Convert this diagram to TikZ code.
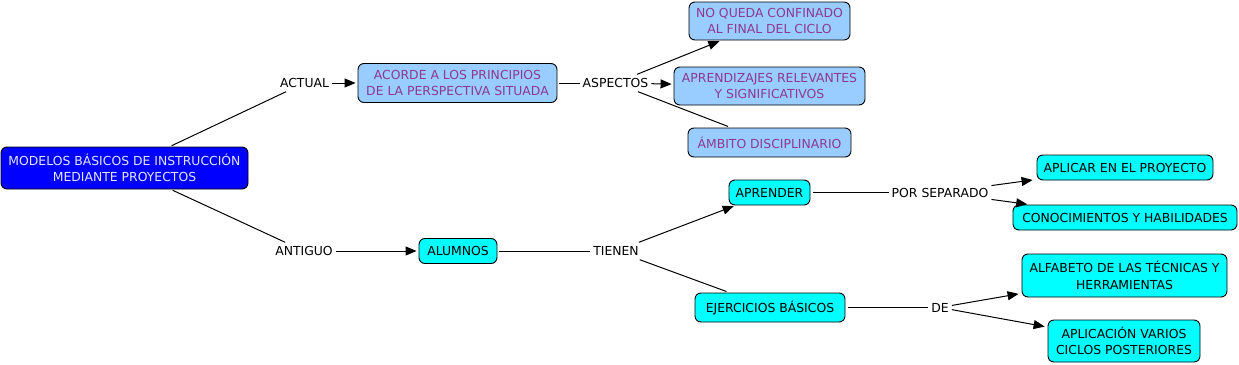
\documentclass[tikz,border=0pt]{standalone}
\usepackage{fontspec}
\setmainfont{DejaVu Sans}
\usetikzlibrary{arrows.meta}
\definecolor{mainblue}{HTML}{0000FF}
\definecolor{maintext}{HTML}{E4E4FF}
\definecolor{lightblue}{HTML}{99CCFF}
\definecolor{purpletext}{HTML}{8E3A8E}
\definecolor{cyanbox}{HTML}{00FFFF}
\tikzset{
  concept/.style={draw=black, line width=0.9pt, rounded corners=6pt, align=center,
    inner sep=2pt, font=\fontsize{12.4}{16.5}\selectfont},
  mainbox/.style={concept, fill=mainblue, text=maintext},
  bluebox/.style={concept, fill=lightblue, text=purpletext},
  cyanconcept/.style={concept, fill=cyanbox, text=black},
  linkphrase/.style={inner xsep=3pt, inner ysep=4pt, text height=9pt, text depth=0pt,
    font=\fontsize{12.4}{16.5}\selectfont},
  conn/.style={line width=1pt, black},
  arr/.style={conn, -{Triangle[length=11pt,width=9pt]}},
}
\begin{document}
\begin{tikzpicture}[x=1pt,y=-1pt]
\useasboundingbox[fill=white] (0,0) rectangle (1239,364);
% concepts
\node[mainbox, minimum width=247pt, minimum height=42pt] (main) at (124.5,168) {MODELOS BÁSICOS DE INSTRUCCIÓN\\MEDIANTE PROYECTOS};
\node[bluebox, minimum width=199pt, minimum height=39pt] (acorde) at (457.5,83) {ACORDE A LOS PRINCIPIOS\\DE LA PERSPECTIVA SITUADA};
\node[bluebox, minimum width=161pt, minimum height=38pt] (noqueda) at (769.5,21) {NO QUEDA CONFINADO\\AL FINAL DEL CICLO};
\node[bluebox, minimum width=191pt, minimum height=38pt] (aprel) at (769.5,86) {APRENDIZAJES RELEVANTES\\Y SIGNIFICATIVOS};
\node[bluebox, minimum width=163pt, minimum height=29pt] (ambito) at (769.5,142.5) {ÁMBITO DISCIPLINARIO};
\node[cyanconcept, minimum width=81pt, minimum height=25pt] (aprender) at (769.5,192.5) {APRENDER};
\node[cyanconcept, minimum width=176pt, minimum height=25pt] (aplicar) at (1125,167.5) {APLICAR EN EL PROYECTO};
\node[cyanconcept, minimum width=224pt, minimum height=25pt] (conoc) at (1125,217.5) {CONOCIMIENTOS Y HABILIDADES};
\node[cyanconcept, minimum width=78pt, minimum height=25pt] (alumnos) at (458,251) {ALUMNOS};
\node[cyanconcept, minimum width=150pt, minimum height=29pt] (ejerc) at (770,307.5) {EJERCICIOS BÁSICOS};
\node[cyanconcept, minimum width=205pt, minimum height=43pt] (alfabeto) at (1124.5,275.5) {ALFABETO DE LAS TÉCNICAS Y\\HERRAMIENTAS};
\node[cyanconcept, minimum width=152pt, minimum height=42pt] (aplicacion) at (1124,341) {APLICACIÓN VARIOS\\CICLOS POSTERIORES};
% linking phrases
\node[linkphrase] (actual) at (304.5,83) {ACTUAL};
\node[linkphrase] (aspectos) at (615.5,83) {ASPECTOS};
\node[linkphrase] (antiguo) at (304,251) {ANTIGUO};
\node[linkphrase] (tienen) at (616,251) {TIENEN};
\node[linkphrase] (porsep) at (940,192.5) {POR SEPARADO};
\node[linkphrase] (de) at (940,307.5) {DE};
% connectors
\draw[conn, shorten <=2pt] (main) -- (actual);
\draw[arr, shorten >=2pt] (actual) -- (acorde);
\draw[conn, shorten <=2pt] (acorde) -- (aspectos);
\draw[arr, shorten >=2pt] (aspectos) -- (noqueda);
\draw[arr, shorten >=2pt] (aspectos) -- (aprel);
\draw[conn, shorten >=3pt] (aspectos) -- (ambito);
\draw[conn, shorten <=2pt] (main) -- (antiguo);
\draw[arr, shorten >=2pt] (antiguo) -- (alumnos);
\draw[conn, shorten <=2pt] (alumnos) -- (tienen);
\draw[arr, shorten >=2pt] (tienen) -- (aprender);
\draw[conn, shorten >=3pt] (tienen) -- (ejerc);
\draw[conn, shorten <=3pt] (aprender) -- (porsep);
\draw[arr, shorten >=4pt] (porsep) -- (aplicar);
\draw[arr, shorten >=2pt] (porsep) -- (conoc);
\draw[conn, shorten <=3pt] (ejerc) -- (de);
\draw[arr, shorten >=3pt] (de) -- (alfabeto);
\draw[arr, shorten >=3pt] (de) -- (aplicacion);
\end{tikzpicture}
\end{document}
